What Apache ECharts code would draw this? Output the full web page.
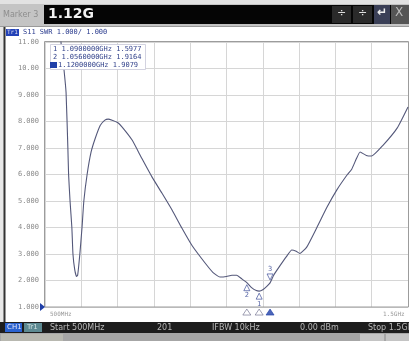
<!DOCTYPE html>
<html>
<head>
<meta charset="utf-8">
<script src="https://cdn.jsdelivr.net/npm/echarts@6/dist/echarts.min.js"></script>
<style>
  html, body { margin: 0; padding: 0; background: #fff; }
  #chart { width: 409px; height: 341px; }
</style>
</head>
<body>
<div id="chart"></div>
<script>
// S11 SWR trace, 500 MHz .. 1.5 GHz (MHz, SWR)
const freqMHz = [500, 530, 544, 552, 558, 563, 565, 569, 574, 577, 582, 587, 590, 596, 602, 607, 616, 627, 638, 652, 665, 674, 685, 700, 712, 740, 767, 795, 822, 850, 877, 905, 941, 963, 982, 1000, 1015, 1028, 1043, 1056, 1070, 1082, 1090, 1100, 1111, 1120, 1130, 1147, 1165, 1180, 1192, 1202, 1221, 1249, 1277, 1304, 1332, 1345, 1358, 1368, 1385, 1400, 1431, 1470, 1500];
const swr = [25, 15, 11.0, 10.0, 9.1, 7.0, 6.0, 5.0, 4.0, 3.0, 2.4, 2.15, 2.2, 3.0, 4.0, 5.0, 6.0, 6.85, 7.35, 7.85, 8.05, 8.09, 8.05, 7.96, 7.8, 7.3, 6.6, 5.9, 5.3, 4.66, 3.98, 3.32, 2.66, 2.3, 2.13, 2.15, 2.2, 2.2, 2.05, 1.92, 1.72, 1.62, 1.60, 1.65, 1.78, 1.91, 2.2, 2.55, 2.9, 3.15, 3.1, 3.02, 3.26, 4.0, 4.77, 5.42, 5.98, 6.2, 6.6, 6.85, 6.72, 6.7, 7.1, 7.75, 8.55];

const markerNames = ['1', '2', '3'];
const markerFreqMHz = [1090, 1056, 1120];
const markerSwr = [1.5977, 1.9164, 1.9079];
const yTickLabels = ['1.000', '2.000', '3.000', '4.000', '5.000', '6.000', '7.000', '8.000', '9.000', '10.00', '11.00'];

const chart = echarts.init(document.getElementById('chart'));
const mono = 'DejaVu Sans Mono';
const markBlue = '#2c3d8f';

const option = {
  animation: false,
  backgroundColor: '#ffffff',
  grid: { left: 45, right: 1, top: 42, bottom: 34 },
  xAxis: {
    type: 'value', min: 500, max: 1500, interval: 100,
    axisLabel: { show: false }, axisTick: { show: false },
    axisLine: { show: false },
    splitLine: { lineStyle: { color: '#d6d6d6', width: 1 } }
  },
  yAxis: {
    type: 'value', min: 1, max: 11, interval: 1,
    axisTick: { show: false },
    axisLine: { show: false },
    axisLabel: {
      fontFamily: mono, fontSize: 7, color: '#8a8a8a', margin: 6,
      formatter: v => yTickLabels[Math.round(v) - 1]
    },
    splitLine: { lineStyle: { color: '#d6d6d6', width: 1 } }
  },
  series: [
    {
      type: 'line',
      data: freqMHz.map((f, i) => [f, swr[i]]),
      showSymbol: false,
      smooth: 0.15,
      lineStyle: { color: '#54587a', width: 1.1 },
      z: 3
    },
    {
      // on-trace marker flags
      type: 'scatter',
      data: markerFreqMHz.map((f, i) => ({
        value: [f, markerSwr[i]],
        symbolRotate: i === 2 ? 180 : 0,
        symbolOffset: i === 2 ? [0, -6] : [0, 5],
        label: {
          show: true, formatter: markerNames[i],
          position: i === 2 ? 'top' : 'bottom', distance: 1,
          fontFamily: mono, fontSize: 7, color: markBlue
        }
      })),
      symbol: 'triangle', symbolSize: 6,
      itemStyle: { color: '#fff', borderColor: markBlue, borderWidth: 0.8 },
      z: 4
    },
    {
      // marker position flags under the axis
      type: 'scatter',
      clip: false,
      data: markerFreqMHz.map((f, i) => ({
        value: [f, 0.81],
        itemStyle: i === 2 ? { color: '#1f3fa8', borderColor: '#1f3fa8' } : undefined
      })),
      symbol: 'triangle', symbolSize: [8, 6],
      itemStyle: { color: '#fff', borderColor: '#6b6b8a', borderWidth: 0.8 },
      z: 4
    }
  ],
  graphic: [
    // header bar
    { type: 'rect', shape: { x: 0, y: 0, width: 409, height: 27 }, style: { fill: '#c4c4c4' } },
    { type: 'rect', shape: { x: 0, y: 0, width: 409, height: 4 }, style: { fill: '#e2e2e2' } },
    { type: 'text', x: 3, y: 11, style: { text: 'Marker 3', font: '8px "DejaVu Sans"', fill: '#8d8d8d' } },
    { type: 'rect', shape: { x: 44, y: 5, width: 365, height: 19 }, style: { fill: '#050505' } },
    { type: 'text', x: 48, y: 7, style: { text: '1.12G', font: 'bold 14px "DejaVu Sans"', fill: '#f2f2f2' } },
    { type: 'rect', shape: { x: 332, y: 6, width: 19, height: 17 }, style: { fill: '#2a2a2a' } },
    { type: 'rect', shape: { x: 353, y: 6, width: 19, height: 17 }, style: { fill: '#2a2a2a' } },
    { type: 'rect', shape: { x: 374, y: 5, width: 16, height: 19 }, style: { fill: '#3a3f57' } },
    { type: 'rect', shape: { x: 391, y: 5, width: 18, height: 19 }, style: { fill: '#555' } },
    { type: 'text', x: 337, y: 8, style: { text: '÷', font: '11px "DejaVu Sans"', fill: '#ddd' } },
    { type: 'text', x: 358, y: 8, style: { text: '÷', font: '11px "DejaVu Sans"', fill: '#ddd' } },
    { type: 'text', x: 377, y: 7, style: { text: '↵', font: 'bold 12px "DejaVu Sans"', fill: '#eee' } },
    { type: 'text', x: 395, y: 7, style: { text: 'X', font: '12px "DejaVu Sans"', fill: '#bbb' } },
    { type: 'line', shape: { x1: 0, y1: 26.5, x2: 409, y2: 26.5 }, style: { stroke: '#9a9a9a', lineWidth: 1 } },
    // window frame
    { type: 'rect', shape: { x: 0, y: 27, width: 5, height: 296 }, style: { fill: '#e8e8e8' } },
    { type: 'line', shape: { x1: 4.5, y1: 27, x2: 4.5, y2: 323 }, style: { stroke: '#333', lineWidth: 2 } },
    // plot border
    { type: 'rect', shape: { x: 44.5, y: 41.5, width: 364, height: 265.5 }, style: { fill: 'none', stroke: '#9c9c9c', lineWidth: 1 }, z: 1 },
    // trace header
    { type: 'rect', shape: { x: 6, y: 29, width: 13, height: 7 }, style: { fill: '#2342b8' } },
    { type: 'text', x: 7, y: 29, style: { text: 'Tr1', font: '6px "DejaVu Sans Mono"', fill: '#dde' } },
    { type: 'text', x: 23, y: 29, style: { text: 'S11 SWR 1.000/ 1.000', font: '7px "DejaVu Sans Mono"', fill: '#2c3d8f' } },
    // marker table
    { type: 'rect', shape: { x: 50.5, y: 44.5, width: 95, height: 25 }, style: { fill: '#fff', stroke: '#c8c8d8', lineWidth: 0.8 }, z: 5 },
    { type: 'text', x: 53, y: 46, z: 6, style: { text: markerNames[0] + ' ' + (markerFreqMHz[0] / 1000).toFixed(7) + 'GHz ' + markerSwr[0].toFixed(4), font: '7px "DejaVu Sans Mono"', fill: '#34448c' } },
    { type: 'text', x: 53, y: 54, z: 6, style: { text: markerNames[1] + ' ' + (markerFreqMHz[1] / 1000).toFixed(7) + 'GHz ' + markerSwr[1].toFixed(4), font: '7px "DejaVu Sans Mono"', fill: '#34448c' } },
    { type: 'rect', shape: { x: 50, y: 62, width: 7, height: 6 }, style: { fill: '#1f3fa8' }, z: 6 },
    { type: 'text', x: 58, y: 62, z: 6, style: { text: (markerFreqMHz[2] / 1000).toFixed(7) + 'GHz ' + markerSwr[2].toFixed(4), font: '7px "DejaVu Sans Mono"', fill: '#34448c' } },
    // reference level arrow
    { type: 'polygon', shape: { points: [[40, 303], [40, 311], [45, 307]] }, style: { fill: '#1f3fa8' }, z: 6 },
    // frequency axis labels
    { type: 'text', x: 50, y: 311, style: { text: '500MHz', font: '6px "DejaVu Sans Mono"', fill: '#9a9a9a' } },
    { type: 'text', x: 383, y: 311, style: { text: '1.5GHz', font: '6px "DejaVu Sans Mono"', fill: '#9a9a9a' } },
    // status bar
    { type: 'rect', shape: { x: 0, y: 322, width: 409, height: 11 }, style: { fill: '#1d1d1d' } },
    { type: 'rect', shape: { x: 5, y: 323, width: 17, height: 9 }, style: { fill: '#2a62d0' } },
    { type: 'text', x: 7, y: 324, style: { text: 'CH1', font: '7px "DejaVu Sans"', fill: '#e6e6f6' } },
    { type: 'rect', shape: { x: 24, y: 323, width: 18, height: 9 }, style: { fill: '#5d8a92' } },
    { type: 'text', x: 27, y: 324, style: { text: 'Tr1', font: '7px "DejaVu Sans"', fill: '#cfe0e0' } },
    { type: 'text', x: 50, y: 324, style: { text: 'Start 500MHz', font: '8px "DejaVu Sans"', fill: '#b8b8b8' } },
    { type: 'text', x: 157, y: 324, style: { text: '201', font: '8px "DejaVu Sans"', fill: '#b8b8b8' } },
    { type: 'text', x: 212, y: 324, style: { text: 'IFBW 10kHz', font: '8px "DejaVu Sans"', fill: '#b8b8b8' } },
    { type: 'text', x: 300, y: 324, style: { text: '0.00 dBm', font: '8px "DejaVu Sans"', fill: '#b8b8b8' } },
    { type: 'text', x: 368, y: 324, style: { text: 'Stop 1.5GHz', font: '8px "DejaVu Sans"', fill: '#b8b8b8' } },
    { type: 'rect', shape: { x: 0, y: 333, width: 409, height: 8 }, style: { fill: '#a6a6a6' } },
    { type: 'rect', shape: { x: 1, y: 334, width: 62, height: 7 }, style: { fill: '#b8b8b0' } },
    { type: 'rect', shape: { x: 360, y: 334, width: 24, height: 7 }, style: { fill: '#c4c4c4' } },
    { type: 'rect', shape: { x: 386, y: 334, width: 23, height: 7 }, style: { fill: '#c4c4c4' } }
  ]
};

chart.setOption(option);
</script>
</body>
</html>
